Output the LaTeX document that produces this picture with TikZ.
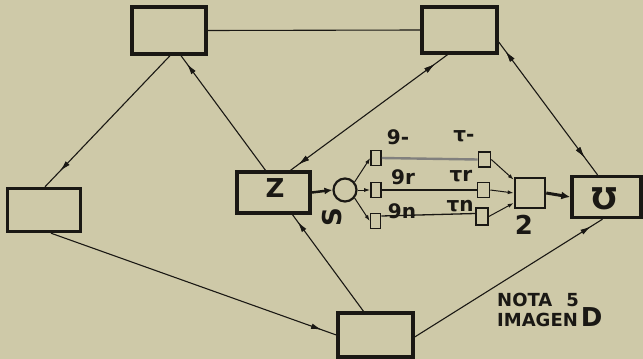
\documentclass[tikz,border=0pt]{standalone}
\usepackage{fontspec}
\setmainfont{DejaVu Sans}
\usetikzlibrary{arrows.meta,decorations.markings}
\definecolor{paper}{RGB}{206,201,168}
\definecolor{ink}{RGB}{26,24,20}
\tikzset{
  frame/.style={draw=ink,line width=3.4pt,rectangle,inner sep=0pt},
  tinybox/.style={draw=ink,line width=1.6pt,rectangle,inner sep=0pt,
    minimum width=10pt,minimum height=15pt},
  link/.style={draw=ink,line width=1.1pt},
  tipat/.style={postaction={decorate},decoration={markings,
    mark=at position #1 with {\arrow{Latex[length=11pt,width=5.5pt]}}}},
  tipback/.style={postaction={decorate},decoration={markings,
    mark=at position #1 with {\arrowreversed{Latex[length=11pt,width=5.5pt]}}}},
  smalltip/.style={-{Latex[length=6pt,width=4pt]}},
  glyph/.style={text=ink,inner sep=0pt,font=\bfseries\fontsize{26}{26}\selectfont},
  tag/.style={text=ink,inner sep=0pt,font=\bfseries\fontsize{20}{20}\selectfont},
}
\begin{document}
\begin{tikzpicture}[x=1pt,y=-1pt]
  % paper
  \fill[paper] (0,0) rectangle (643,359);
  \useasboundingbox (0,0) rectangle (643,359);

  % main boxes
  \node[frame,minimum width=74pt,minimum height=47pt] (A) at (169,30.5) {};
  \node[frame,minimum width=75pt,minimum height=46pt] (B) at (459.5,30) {};
  \node[frame,minimum width=73pt,minimum height=43pt] (C) at (44,210) {};
  \node[frame,minimum width=75pt,minimum height=44pt] (D) at (375.5,335) {};
  \node[frame,minimum width=73pt,minimum height=41pt] (Z) at (273.5,192.5) {};
  \node[frame,minimum width=69pt,minimum height=41pt] (Y) at (606.5,197) {};
  \node[frame,line width=2.6pt,minimum width=30pt,minimum height=30pt] (M) at (530,193) {};
  \node[draw=ink,line width=2.2pt,circle,minimum size=23pt,inner sep=0pt] (O) at (345,190) {};

  % small boxes
  \node[tinybox] (s1) at (376,158) {};
  \node[tinybox] (s2) at (376,190) {};
  \node[tinybox] (s3) at (375.5,221) {};
  \node[tinybox,minimum width=12pt] (t1) at (484.5,159.5) {};
  \node[tinybox,minimum width=12pt] (t2) at (483.5,190) {};
  \node[tinybox,minimum width=12pt,minimum height=17pt] (t3) at (482,216.5) {};

  % symbols
  \node[glyph] (gz) at (275,188) {Z};
  \node[glyph,font=\bfseries\fontsize{30}{30}\selectfont] (gy) at (604,199) {Ʊ};
  \node[glyph,rotate=90] (go) at (332,217) {S};
  \node[glyph] (gm) at (524,225) {2};
  \node[tag] (p1) at (398,137) {9-};
  \node[tag] (p2) at (403,177) {9r};
  \node[tag] (p3) at (402,211) {9n};
  \node[tag] (q1) at (464,136) {τ-};
  \node[tag] (q2) at (461,176) {τr};
  \node[tag] (q3) at (460,206) {τn};

  % note
  \node[anchor=north west,align=left,text=ink,inner sep=0pt,
    font=\bfseries\fontsize{18}{20}\selectfont] (note) at (497,293)
    {NOTA\hspace{14pt}5\\IMAGEN\hspace{3pt}{\fontsize{26}{20}\selectfont D}};

  % outer connectors
  \draw[link] (A.east) -- (B.west);
  \draw[link,tipat=0.88] ([xshift=1pt]A.south) -- ([xshift=1pt]C.north);
  \draw[link,tipat=0.93] ([xshift=-8pt]Z.north) -- ([xshift=12pt]A.south);
  \draw[link,tipback=0.08,tipat=0.95] ([xshift=-12pt]B.south) -- ([xshift=17pt]Z.north);
  \draw[link,tipback=0.07,tipat=0.87] ([yshift=-12pt]B.east) -- ([xshift=-9pt]Y.north);
  \draw[link,tipat=0.95] ([xshift=7pt]C.south) -- (D.west);
  \draw[link,tipat=0.93] ([xshift=-12pt]D.north) -- ([xshift=19pt]Z.south);
  \draw[link,tipat=0.94] ([yshift=-2pt]D.east) -- ([xshift=-4pt]Y.south);

  % inner chain
  \draw[ink,line width=2.5pt,-{Latex[length=8pt,width=7pt]}] (Z.east) -- (O.west);
  \draw[ink,line width=1pt,smalltip] (O.40) -- (s1.west);
  \draw[ink,line width=1pt,smalltip] (O.east) -- (s2.west);
  \draw[ink,line width=1pt,smalltip] (O.-40) -- (s3.west);
  \draw[ink!55,line width=2.4pt] (s1.east) -- (t1.west);
  \draw[ink,line width=2.6pt] (s2.east) -- (t2.west);
  \draw[ink,line width=1.3pt] ([yshift=5pt]s3.east) -- ([yshift=3pt]t3.west);
  \draw[ink,line width=1pt,smalltip] (t1.east) -- ([yshift=-3pt]M.north west);
  \draw[ink,line width=1pt,smalltip] (t2.east) -- (M.west);
  \draw[ink,line width=1pt,smalltip] (t3.east) -- ([yshift=-10pt]M.west);
  \draw[ink,line width=3pt,-{Latex[length=9pt,width=8pt]}] (M.east) -- (Y.west);
\end{tikzpicture}
\end{document}
